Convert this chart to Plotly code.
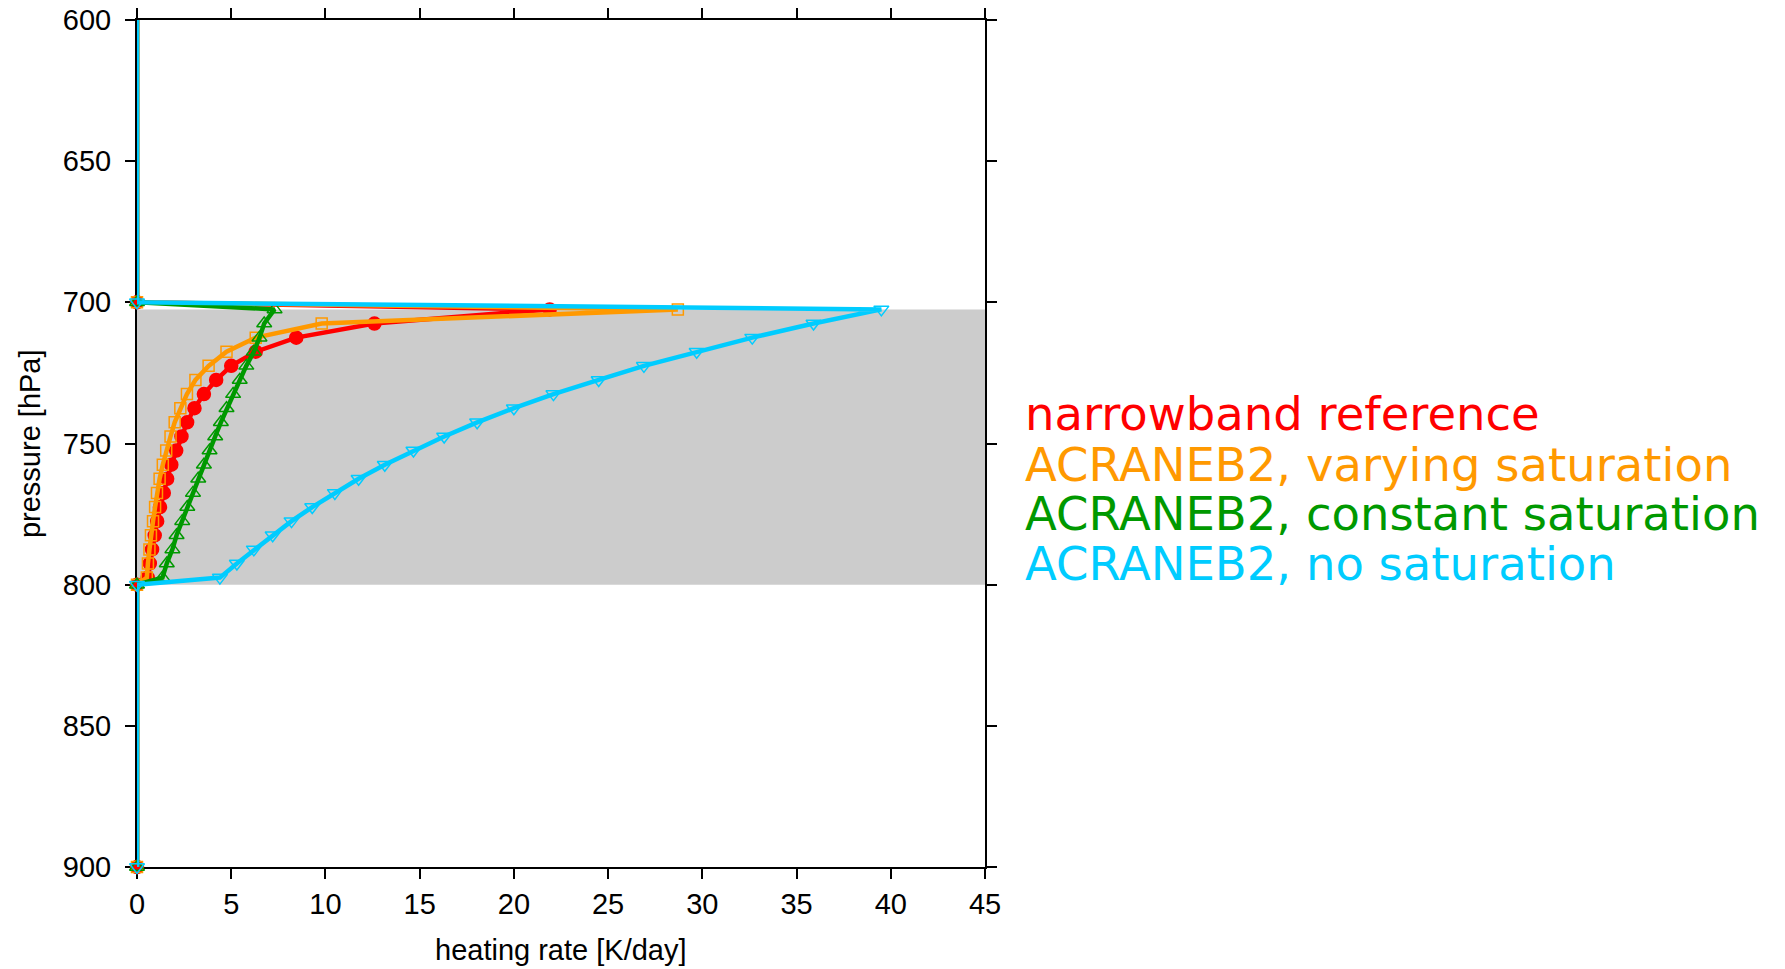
import plotly.graph_objects as go

# Model levels inside the cloud layer [hPa]
cloud_levels = [702.5, 707.5, 712.5, 717.5, 722.5, 727.5, 732.5, 737.5, 742.5, 747.5,
                752.5, 757.5, 762.5, 767.5, 772.5, 777.5, 782.5, 787.5, 792.5, 797.5]

# Clear-air levels bracketing the cloud layer [hPa] (heating rate is zero there)
levels_above = [500.0, 700.0]
levels_below = [800.0, 900.0]

# Heating rates inside the cloud layer [K/day]
hr_narrowband = [21.9, 12.6, 8.45, 6.3, 5.0, 4.2, 3.55, 3.05, 2.66, 2.36,
                 2.08, 1.82, 1.6, 1.42, 1.22, 1.07, 0.94, 0.8, 0.68, 0.57]
hr_varying = [28.7, 9.8, 6.3, 4.75, 3.8, 3.1, 2.65, 2.3, 2.0, 1.78,
              1.55, 1.37, 1.2, 1.06, 0.96, 0.85, 0.74, 0.66, 0.58, 0.52]
hr_constant = [7.3, 6.75, 6.5, 6.2, 5.8, 5.45, 5.1, 4.75, 4.45, 4.15,
               3.85, 3.55, 3.25, 2.97, 2.67, 2.4, 2.1, 1.88, 1.58, 1.35]
hr_nosat = [39.5, 35.9, 32.65, 29.7, 26.9, 24.5, 22.1, 20.0, 18.05, 16.3,
            14.67, 13.15, 11.76, 10.5, 9.3, 8.2, 7.2, 6.2, 5.3, 4.4]

series_names = ["narrowband reference",
                "ACRANEB2, varying saturation",
                "ACRANEB2, constant saturation",
                "ACRANEB2, no saturation"]
series_values = [hr_narrowband, hr_varying, hr_constant, hr_nosat]
series_colors = ["#FF0000", "#FF9900", "#009900", "#00CCFF"]
series_symbols = ["circle", "square-open", "triangle-up-open", "triangle-down-open"]
series_msize = [13, 11, 13, 13]

# Cloud layer shading
cloud_top, cloud_base = 702.5, 800.0

x_ticks = [0, 5, 10, 15, 20, 25, 30, 35, 40, 45]
y_ticks = [600, 650, 700, 750, 800, 850, 900]

W, H = 1785, 969
L, R, T, B = 136.5, 800, 19.5, 102
plot_w = W - L - R
plot_h = H - T - B

fig = go.Figure()

profile_p = levels_above + cloud_levels + levels_below
for name, vals, col, sym, ms in zip(series_names, series_values, series_colors,
                                    series_symbols, series_msize):
    profile_x = [0.0] * len(levels_above) + vals + [0.0] * len(levels_below)
    fig.add_trace(go.Scatter(
        x=profile_x, y=profile_p, mode="lines+markers", name=name,
        line=dict(color=col, width=4.5),
        marker=dict(symbol=sym, size=ms, color=col,
                    line=dict(color=col, width=1.5)),
        cliponaxis=False, showlegend=False,
    ))

fig.add_shape(type="rect", xref="x", yref="y", x0=0, x1=45,
              y0=cloud_top, y1=cloud_base, fillcolor="#CCCCCC",
              line=dict(width=0), layer="below")

tick_font = dict(family="Liberation Sans, Arial, sans-serif", size=29, color="black")
axis_common = dict(showline=True, linewidth=2, linecolor="black", mirror="ticks",
                   ticks="outside", ticklen=10, tickwidth=1.5, tickcolor="black",
                   showgrid=False, zeroline=False, tickfont=tick_font,
                   layer="below traces", automargin=False)

fig.update_xaxes(range=[0, 45], tickvals=x_ticks, ticktext=[str(v) for v in x_ticks],
                 **axis_common)
fig.update_yaxes(range=[900, 600], tickvals=y_ticks, ticktext=[str(v) for v in y_ticks],
                 ticklabelstandoff=8, **axis_common)

title_font = dict(family="Liberation Sans, Arial, sans-serif", size=29, color="black")
fig.add_annotation(text="heating rate [K/day]", xref="paper", yref="paper",
                   x=0.5, y=(T + plot_h - 950) / plot_h, xanchor="center", yanchor="middle",
                   showarrow=False, font=title_font)
fig.add_annotation(text="pressure [hPa]", xref="paper", yref="paper",
                   x=(29 - L) / plot_w, y=0.5, xanchor="center", yanchor="middle",
                   textangle=-90, showarrow=False, font=title_font)

# Coloured key to the right of the plot
leg_font_size = 46.5
leg_centers = [414, 465, 514, 564]
for name, col, yc in zip(series_names, series_colors, leg_centers):
    fig.add_annotation(text=name, xref="paper", yref="paper",
                       x=(1023 - L) / plot_w, y=(T + plot_h - yc) / plot_h,
                       xanchor="left", yanchor="middle", showarrow=False,
                       font=dict(family="DejaVu Sans, sans-serif", size=leg_font_size, color=col))

fig.update_layout(width=W, height=H, autosize=False,
                  margin=dict(l=L, r=R, t=T, b=B, pad=0),
                  plot_bgcolor="white", paper_bgcolor="white")

fig.write_html("out.html")
